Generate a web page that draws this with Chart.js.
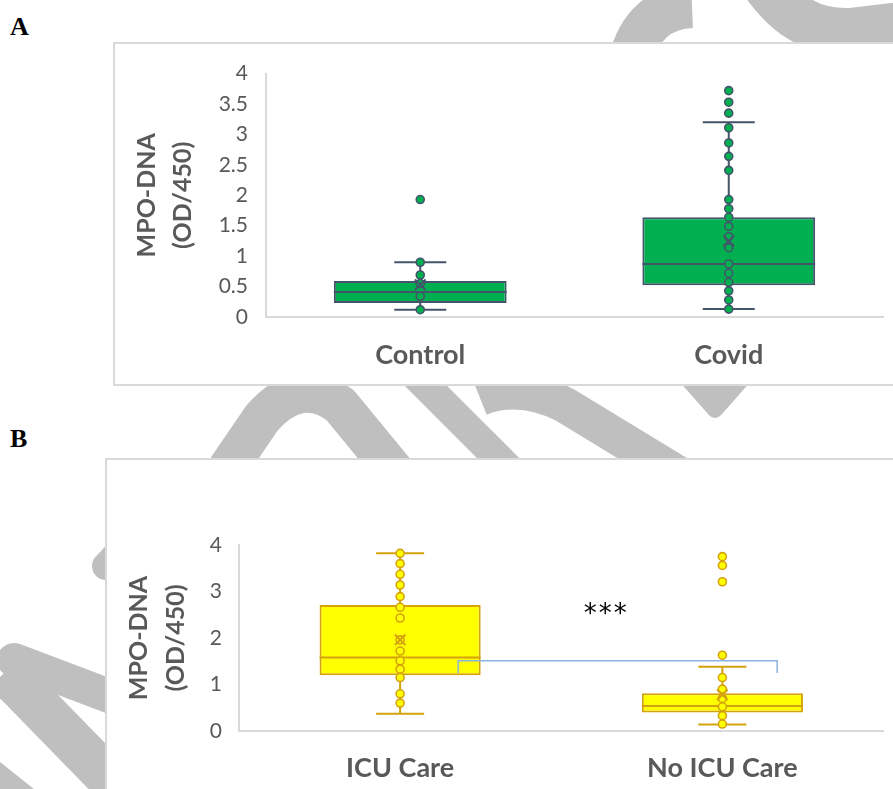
<!DOCTYPE html>
<html>
<head>
<meta charset="utf-8">
<script src="https://cdn.jsdelivr.net/npm/chart.js@4.4.1/dist/chart.umd.min.js"></script>
<style>
  html, body { margin: 0; padding: 0; background: #fff; }
  body { position: relative; width: 893px; height: 789px; overflow: hidden; }
  #wm { position: absolute; left: 0; top: 0; z-index: 0; }
  .frame { position: absolute; background: #fff; border: 2px solid #D9D9D9; box-sizing: border-box; z-index: 1; }
  .panel { position: absolute; z-index: 2; }
  .tag { position: absolute; z-index: 3; font: bold 26px "Liberation Serif", "Times New Roman", serif; line-height: 1; color: #000; }
</style>
</head>
<body>
<!-- background watermark strokes -->
<svg id="wm" width="893" height="789" viewBox="0 0 893 789">
  <g fill="none" stroke="#BFBFBF" stroke-linejoin="round">
    <path d="M 630 62 Q 643 8 692 6" stroke-width="44"/>
    <path d="M 755 -30 C 785 20 815 32 850 31 L 900 25" stroke-width="46"/>
    <path d="M 165 560 L 262 418 Q 300 375 340 405 L 400 478" stroke-width="40"/>
    <path d="M 400 360 L 530 490" stroke-width="30"/>
    <path d="M 480 398 Q 520 382 565 405 L 680 475" stroke-width="36"/>
    <path d="M 106 566 L 140 530" stroke-width="28" stroke-linecap="round"/>
    <path d="M 14 660 L 125 702" stroke-width="34" stroke-linecap="round"/>
    <path d="M 5 672 L 130 800" stroke-width="44"/>
    <path d="M -20 760 L 30 800" stroke-width="22"/>
  </g>
  <path d="M 678 380 L 752 380 L 722 414 Q 715 422 708 414 Z" fill="#BFBFBF"/>
</svg>

<div class="tag" style="left:10px;top:14px">A</div>
<div class="frame" style="left:113px;top:42px;width:800px;height:344px"></div>
<div class="panel" style="left:114px;top:43px;width:779px;height:342px"><canvas id="chartA" width="779" height="342"></canvas></div>

<div class="tag" style="left:10px;top:426px">B</div>
<div class="frame" style="left:105px;top:458px;width:800px;height:400px"></div>
<div class="panel" style="left:106px;top:459px;width:787px;height:330px"><canvas id="chartB" width="787" height="330"></canvas></div>

<script>
// ---- Panel A: MPO-DNA, Control vs Covid ----
const categoriesA = ['Control', 'Covid'];
const boxMinA    = [0.12, 0.13];
const boxQ1A     = [0.23, 0.52];
const boxMedianA = [0.41, 0.87];
const boxQ3A     = [0.59, 1.64];
const boxMaxA    = [0.90, 3.20];
const boxMeanA   = [0.53, 1.25];
const pointsControl = [1.93, 0.90, 0.69, 0.55, 0.34, 0.12];
const pointsCovid   = [3.72, 3.53, 3.35, 3.11, 2.86, 2.64, 2.41, 1.93, 1.78, 1.64,
                       1.49, 1.32, 1.14, 0.87, 0.72, 0.57, 0.43, 0.28, 0.13];
const yTicksA = [0, 0.5, 1, 1.5, 2, 2.5, 3, 3.5, 4];

// ---- Panel B: MPO-DNA, ICU Care vs No ICU Care ----
const categoriesB = ['ICU Care', 'No ICU Care'];
const boxMinB    = [0.37, 0.14];
const boxQ1B     = [1.20, 0.40];
const boxMedianB = [1.58, 0.54];
const boxQ3B     = [2.71, 0.81];
const boxMaxB    = [3.82, 1.38];
const boxMeanB   = [1.96, 0.78];
const pointsIcu   = [3.82, 3.60, 3.37, 3.14, 2.89, 2.66, 2.43, 1.96, 1.72, 1.51, 1.33, 1.15, 0.80, 0.60];
const pointsNoIcu = [3.75, 3.56, 3.21, 1.63, 1.15, 0.90, 0.70, 0.52, 0.33, 0.15];
const yTicksB = [0, 1, 2, 3, 4];

// significance bracket between the two groups (category index, value)
const bracketXB = [0.18, 1.17];
const bracketYB = [1.25, 1.51];
const signifLabelB = '***';
const signifPosB = [0.64, 2.50];

const axisTitle = ['MPO-DNA', '(OD/450)'];

// whiskers, caps and median line, drawn right after the box dataset
const whiskerPlugin = {
  id: 'boxWhiskers',
  afterDatasetDraw(chart, args, opts) {
    if (args.index !== opts.boxIndex) return;
    const { ctx, scales: { x, y } } = chart;
    ctx.save();
    ctx.strokeStyle = opts.color;
    ctx.lineWidth = opts.lineWidth;
    const meta = chart.getDatasetMeta(opts.boxIndex);
    opts.min.forEach((lo, i) => {
      const cx = x.getPixelForValue(i);
      const half = opts.capWidth / 2;
      const bw = meta.data[i].width / 2;
      const yLo = y.getPixelForValue(lo), yHi = y.getPixelForValue(opts.max[i]);
      const yQ1 = y.getPixelForValue(opts.q1[i]), yQ3 = y.getPixelForValue(opts.q3[i]);
      const yMed = y.getPixelForValue(opts.median[i]);
      ctx.beginPath();
      ctx.moveTo(cx, yQ1); ctx.lineTo(cx, yLo);
      ctx.moveTo(cx, yQ3); ctx.lineTo(cx, yHi);
      ctx.moveTo(cx - half, yLo); ctx.lineTo(cx + half, yLo);
      ctx.moveTo(cx - half, yHi); ctx.lineTo(cx + half, yHi);
      ctx.moveTo(cx - bw, yMed); ctx.lineTo(cx + bw, yMed);
      ctx.stroke();
    });
    ctx.restore();
  }
};

// bracket and star label for the group comparison
const bracketPlugin = {
  id: 'sigBracket',
  afterDatasetsDraw(chart, args, opts) {
    if (!opts.x) return;
    const { ctx, scales: { x, y } } = chart;
    ctx.save();
    ctx.strokeStyle = opts.color;
    ctx.lineWidth = opts.lineWidth;
    const x0 = x.getPixelForValue(opts.x[0]), x1 = x.getPixelForValue(opts.x[1]);
    const yEnd = y.getPixelForValue(opts.y[0]), yTop = y.getPixelForValue(opts.y[1]);
    ctx.beginPath();
    ctx.moveTo(x0, yEnd); ctx.lineTo(x0, yTop); ctx.lineTo(x1, yTop); ctx.lineTo(x1, yEnd);
    ctx.stroke();
    ctx.fillStyle = '#000';
    ctx.font = opts.font;
    if ('letterSpacing' in ctx) ctx.letterSpacing = opts.spacing;
    ctx.textAlign = 'center';
    ctx.textBaseline = 'middle';
    ctx.fillText(opts.label, x.getPixelForValue(opts.labelAt[0]), y.getPixelForValue(opts.labelAt[1]));
    ctx.restore();
  }
};

Chart.defaults.font.family = 'Lato, "Open Sans", sans-serif';

function boxChart(id, o) {
  const points = [];
  o.values.forEach((list, i) => list.forEach(v => points.push({ x: o.categories[i], y: v })));
  return new Chart(document.getElementById(id), {
    type: 'bar',
    data: {
      labels: o.categories,
      datasets: [
        {
          type: 'line', label: 'Mean', showLine: false, order: 0,
          data: o.mean.map((v, i) => ({ x: o.categories[i], y: v })),
          pointStyle: 'crossRot', pointRadius: 7.5, borderColor: o.edge, borderWidth: 2
        },
        {
          type: 'line', label: 'Values', showLine: false, order: 1,
          data: points,
          pointStyle: 'circle', pointRadius: 4, borderWidth: 1.6,
          backgroundColor: o.fill, borderColor: o.edge
        },
        {
          type: 'bar', label: 'IQR', order: 2,
          data: o.q1.map((v, i) => [v, o.q3[i]]),
          backgroundColor: o.fill, borderColor: o.edge, borderWidth: 2,
          borderSkipped: false, barPercentage: o.barPct, categoryPercentage: 1
        }
      ]
    },
    options: {
      responsive: false,
      animation: false,
      events: [],
      layout: { padding: o.padding },
      plugins: {
        legend: { display: false },
        tooltip: { enabled: false },
        boxWhiskers: {
          boxIndex: 2, color: o.edge, lineWidth: 2, capWidth: o.capWidth,
          min: o.min, q1: o.q1, median: o.median, q3: o.q3, max: o.max
        },
        sigBracket: o.bracket || {}
      },
      scales: {
        x: {
          type: 'category',
          offset: true,
          grid: { display: false, drawTicks: false },
          border: { display: true, color: '#D9D9D9', width: 2 },
          ticks: { color: '#595959', font: { size: 27, weight: 'bold' }, padding: o.xPad },
          afterFit: s => { s.height = o.xHeight; }
        },
        y: {
          min: 0, max: 4,
          grid: { display: false, drawTicks: false },
          border: { display: true, color: '#D9D9D9', width: 2 },
          ticks: { color: '#595959', font: { size: 21 }, padding: o.yPad, callback: v => String(v) },
          afterBuildTicks: s => { s.ticks = o.yTicks.map(v => ({ value: v })); },
          afterFit: s => { s.width = o.yWidth; },
          title: {
            display: true, text: axisTitle, color: '#595959',
            font: { size: 25, weight: 'bold', lineHeight: o.titleLH },
            padding: { top: o.titlePad, bottom: 0 }
          }
        }
      }
    },
    plugins: [whiskerPlugin, bracketPlugin]
  });
}

boxChart('chartA', {
  categories: categoriesA, values: [pointsControl, pointsCovid],
  min: boxMinA, q1: boxQ1A, median: boxMedianA, q3: boxQ3A, max: boxMaxA, mean: boxMeanA,
  yTicks: yTicksA, fill: '#00B050', edge: '#44546A', barPct: 0.56, capWidth: 52,
  padding: { left: 0, top: 30, right: 10, bottom: 0 },
  xHeight: 68, xPad: 22, yWidth: 152, yPad: 18, titleLH: 1.44, titlePad: 15
});

boxChart('chartB', {
  categories: categoriesB, values: [pointsIcu, pointsNoIcu],
  min: boxMinB, q1: boxQ1B, median: boxMedianB, q3: boxQ3B, max: boxMaxB, mean: boxMeanB,
  yTicks: yTicksB, fill: '#FFFF00', edge: '#D4A20C', barPct: 0.50, capWidth: 48,
  padding: { left: 0, top: 86, right: 0, bottom: 0 },
  xHeight: 58, xPad: 21, yWidth: 133, yPad: 17, titleLH: 1.48, titlePad: 14,
  bracket: {
    x: bracketXB, y: bracketYB, color: '#8CB4E2', lineWidth: 1.5,
    label: signifLabelB, labelAt: signifPosB, font: '26px "DejaVu Sans", sans-serif', spacing: '2px'
  }
});
</script>
</body>
</html>
